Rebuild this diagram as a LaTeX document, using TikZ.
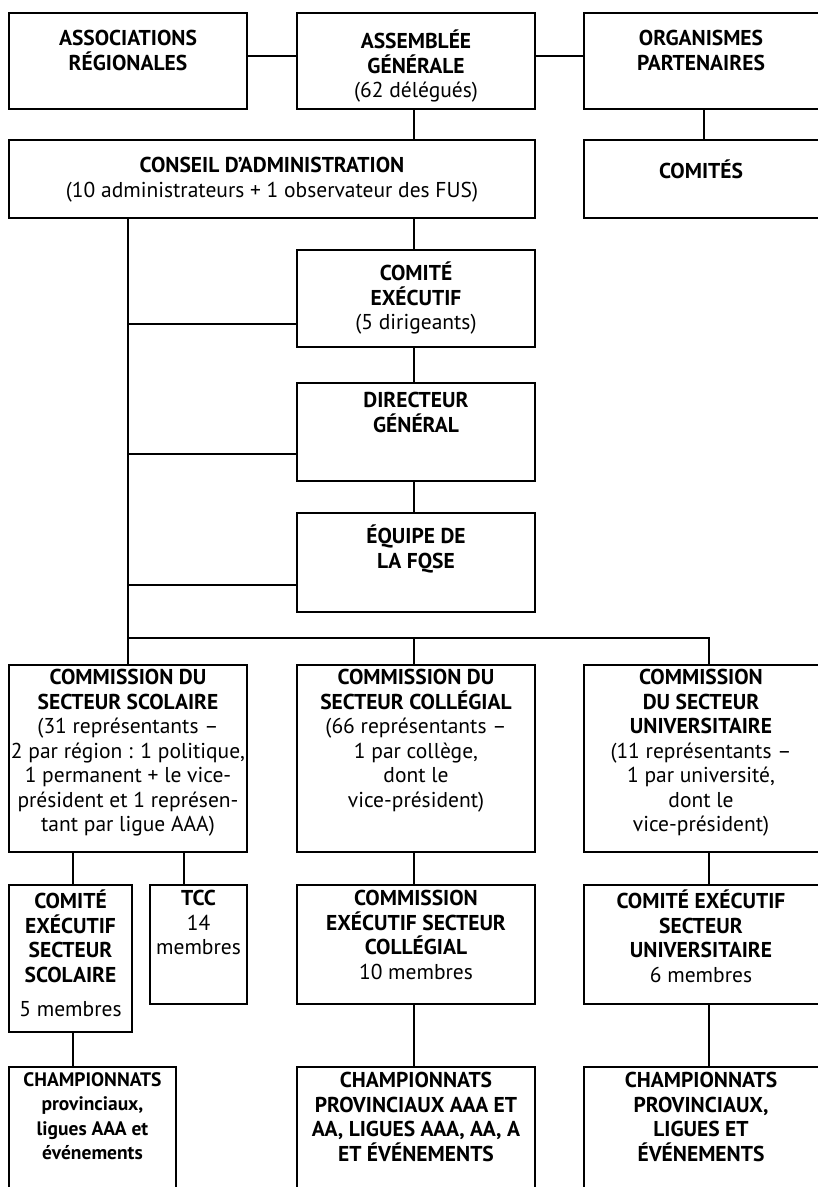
\documentclass[tikz,border=0pt]{standalone}
\usepackage{fontspec}
\setmainfont{PT Sans}
\tikzset{
  boxst/.style={draw=black, line width=2.5pt, rectangle, inner sep=0pt},
  lnk/.style={draw=black, line width=2.2pt},
  thinlnk/.style={draw=black, line width=1.5pt},
  txt/.style={align=center, inner sep=0pt, anchor=north,
    font=\fontsize{21.5}{24.5}\selectfont,
    execute at begin node={\rule{0pt}{21pt}}},
  smalltxt/.style={txt, font=\fontsize{19.5}{24.5}\selectfont}
}
% \bx[style]{name}{x1}{y1}{x2}{y2}{text x}{text north y}{text}
\newcommand{\bx}[9][txt]{%
  \node[boxst, minimum width={(#5)-(#3)}, minimum height={(#6)-(#4)}] (#2) at ({((#3)+(#5))/2},{((#4)+(#6))/2}) {};
  \node[#1] (#2-t) at (#7,#8) {#9};}
\begin{document}
\begin{tikzpicture}[x=1pt,y=-1pt]
\useasboundingbox (0,0) rectangle (818,1187);
\clip (0,0) rectangle (818,1187);
% top row
\bx{asso}{9}{13}{247}{109}{128}{30}{\textbf{ASSOCIATIONS}\\\textbf{RÉGIONALES}}
\bx{ag}{297}{13}{535}{109}{416}{30}{\textbf{ASSEMBLÉE}\\\textbf{GÉNÉRALE}\\(62 délégués)}
\bx{org}{584}{13}{860}{109}{701}{30}{\textbf{ORGANISMES}\\\textbf{PARTENAIRES}}
% second row
\bx{ca}{9}{140}{535}{218}{272}{157}{\textbf{CONSEIL D’ADMINISTRATION}\\(10 administrateurs + 1 observateur des FUS)}
\bx{comites}{584}{140}{860}{218}{701}{157}{\textbf{COMITÉS}}
% middle column
\bx{ce}{297}{250}{535}{347}{416}{262}{\textbf{COMITÉ}\\\textbf{EXÉCUTIF}\\(5 dirigeants)}
\bx{dg}{297}{383}{535}{481}{416}{392}{\textbf{DIRECTEUR}\\\textbf{GÉNÉRAL}}
\bx{eq}{297}{513}{535}{612}{416}{525}{\textbf{ÉQUIPE DE}\\\textbf{LA FQSE}}
% commissions
\bx{com1}{9}{665}{247}{852}{128}{669}{\textbf{COMMISSION DU}\\\textbf{SECTEUR SCOLAIRE}\\(31 représentants –\\2 par région : 1 politique,\\1 permanent + le vice-\\président et 1 représen-\\tant par ligue AAA)}
\bx{com2}{297}{665}{535}{852}{416}{669}{\textbf{COMMISSION DU}\\\textbf{SECTEUR COLLÉGIAL}\\(66 représentants –\\1 par collège,\\dont le\\vice-président)}
\bx{com3}{584}{665}{860}{852}{701}{669}{\textbf{COMMISSION}\\\textbf{DU SECTEUR}\\\textbf{UNIVERSITAIRE}\\(11 représentants –\\1 par université,\\dont le\\vice-président)}
% third row
\bx{ces}{9}{885}{132}{1032}{70.5}{890}{\textbf{COMITÉ}\\\textbf{EXÉCUTIF}\\\textbf{SECTEUR}\\\textbf{SCOLAIRE}\\[10pt]5 membres}
\bx{tcc}{150}{885}{247}{1004}{198.5}{890}{\textbf{TCC}\\14\\membres}
\bx{cec}{297}{885}{535}{1004}{416}{890}{\textbf{COMMISSION}\\\textbf{EXÉCUTIF SECTEUR}\\\textbf{COLLÉGIAL}\\10 membres}
\bx{ceu}{584}{885}{860}{1004}{701}{890}{\textbf{COMITÉ EXÉCUTIF}\\\textbf{SECTEUR}\\\textbf{UNIVERSITAIRE}\\6 membres}
% bottom row
\bx[smalltxt]{ch1}{9}{1067}{176}{1240}{92.5}{1072}{\textbf{CHAMPIONNATS}\\\textbf{provinciaux,}\\\textbf{ligues AAA et}\\\textbf{événements}}
\bx{ch2}{297}{1067}{535}{1240}{416}{1072}{\textbf{CHAMPIONNATS}\\\textbf{PROVINCIAUX AAA ET}\\\textbf{AA, LIGUES AAA, AA, A}\\\textbf{ET ÉVÉNEMENTS}}
\bx{ch3}{584}{1067}{860}{1240}{701}{1072}{\textbf{CHAMPIONNATS}\\\textbf{PROVINCIAUX,}\\\textbf{LIGUES ET}\\\textbf{ÉVÉNEMENTS}}
% joints
\coordinate (jtop) at (0,56);
\coordinate (jce) at (0,324);
\coordinate (jdg) at (0,454);
\coordinate (jeq) at (0,585);
\coordinate (bar) at (0,638);
\coordinate (xm) at (414,0);
\coordinate (xr) at (709,0);
\coordinate (xo) at (704,0);
\coordinate (xces) at (73,0);
\coordinate (xtcc) at (184,0);
% connectors
\draw[lnk] (asso.east |- jtop) -- (ag.west |- jtop);
\draw[lnk] (ag.east |- jtop) -- (org.west |- jtop);
\draw[lnk] (xm |- ag.south) -- (xm |- ca.north);
\draw[thinlnk] (xo |- org.south) -- (xo |- comites.north);
\draw[lnk] (xm |- ca.south) -- (xm |- ce.north);
\draw[lnk] (xm |- ce.south) -- (xm |- dg.north);
\draw[lnk] (xm |- dg.south) -- (xm |- eq.north);
\draw[lnk] (com1.north |- ca.south) -- (com1.north);
\draw[lnk] (com1.north |- jce) -- (ce.west |- jce);
\draw[lnk] (com1.north |- jdg) -- (dg.west |- jdg);
\draw[lnk] (com1.north |- jeq) -- (eq.west |- jeq);
\draw[lnk] (com1.north |- bar) -- (xr |- bar) -- (xr |- com3.north);
\draw[lnk] (xm |- bar) -- (xm |- com2.north);
\draw[lnk] (xces |- com1.south) -- (xces |- ces.north);
\draw[lnk] (xtcc |- com1.south) -- (xtcc |- tcc.north);
\draw[lnk] (xm |- com2.south) -- (xm |- cec.north);
\draw[lnk] (xr |- com3.south) -- (xr |- ceu.north);
\draw[lnk] (xces |- ces.south) -- (xces |- ch1.north);
\draw[lnk] (xm |- cec.south) -- (xm |- ch2.north);
\draw[lnk] (xr |- ceu.south) -- (xr |- ch3.north);
\end{tikzpicture}
\end{document}
